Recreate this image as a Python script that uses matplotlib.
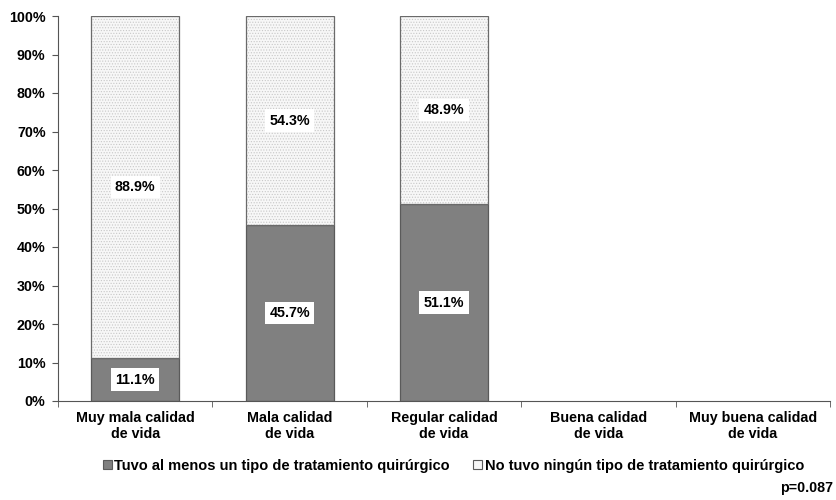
import matplotlib.pyplot as plt
import numpy as np
from matplotlib.patches import Patch

plt.rcParams['font.family'] = ['Liberation Sans', 'DejaVu Sans']
plt.rcParams['font.weight'] = 'bold'
plt.rcParams['hatch.linewidth'] = 0.5

categories = ['Muy mala calidad\nde vida', 'Mala calidad\nde vida', 'Regular calidad\nde vida',
              'Buena calidad\nde vida', 'Muy buena calidad\nde vida']
tuvo = [11.1, 45.7, 51.1, 0, 0]
no_tuvo = [88.9, 54.3, 48.9, 0, 0]
series_names = ['Tuvo al menos un tipo de tratamiento quirúrgico',
                'No tuvo ningún tipo de tratamiento quirúrgico']

fig = plt.figure(figsize=(8.37, 5), dpi=100)
ax = fig.add_axes([0.0693, 0.198, 0.9223, 0.770])

x = np.arange(len(categories))
w = 0.57
lw1 = [0.9 if v > 0 else 0 for v in tuvo]
lw2 = [0.9 if v > 0 else 0 for v in no_tuvo]
ax.bar(x, tuvo, w, color='#808080', edgecolor='#5a5a5a', lw=lw1)
# dotted fill: light hatch first, then a dark outline on top
ax.bar(x, no_tuvo, w, bottom=tuvo, color='#f7f7f7', edgecolor='#c8c8c8', lw=0,
       hatch='......')
ax.bar(x, no_tuvo, w, bottom=tuvo, fill=False, edgecolor='#6a6a6a', lw=lw2)

box = dict(boxstyle='square,pad=0.3', fc='white', ec='none')
for i in range(len(categories)):
    if tuvo[i] > 0:
        ax.text(x[i], tuvo[i] / 2, f'{tuvo[i]:.1f}%', ha='center', va='center',
                fontsize=10.3, fontweight='bold', bbox=box)
    if no_tuvo[i] > 0:
        ax.text(x[i], tuvo[i] + no_tuvo[i] / 2, f'{no_tuvo[i]:.1f}%', ha='center', va='center',
                fontsize=10.3, fontweight='bold', bbox=box)

ax.set_xlim(-0.5, len(categories) - 0.5)
ax.set_ylim(0, 100)
ax.set_yticks(np.arange(0, 101, 10))
ax.set_yticklabels([f'{v}%' for v in range(0, 101, 10)], fontsize=10.3, fontweight='bold')
ax.set_xticks(x)
ax.set_xticklabels(categories, fontsize=10.3, fontweight='bold')
ax.tick_params(axis='x', length=0, pad=7)
ax.set_xticks(np.arange(-0.5, len(categories), 1), minor=True)
ax.tick_params(axis='x', which='minor', length=4, color='#555555')
ax.tick_params(axis='y', length=4, color='#555555', pad=5)
for s in ['top', 'right']:
    ax.spines[s].set_visible(False)
for s in ['left', 'bottom']:
    ax.spines[s].set_color('#555555')

h1 = Patch(facecolor='#808080', edgecolor='#5a5a5a', lw=0.8)
h2 = Patch(facecolor='#f7f7f7', edgecolor='#5a5a5a', lw=0.8)
fig.legend(handles=[h1, h2], labels=series_names, loc='center', bbox_to_anchor=(0.542, 0.068),
           ncol=2, frameon=False, fontsize=10.5, handlelength=0.6, handleheight=0.6,
           columnspacing=1.6, handletextpad=0.2)
fig.text(0.995, 0.024, 'p=0.087', ha='right', va='center', fontsize=10.3, fontweight='bold')

fig.savefig('out.png', dpi=100)
